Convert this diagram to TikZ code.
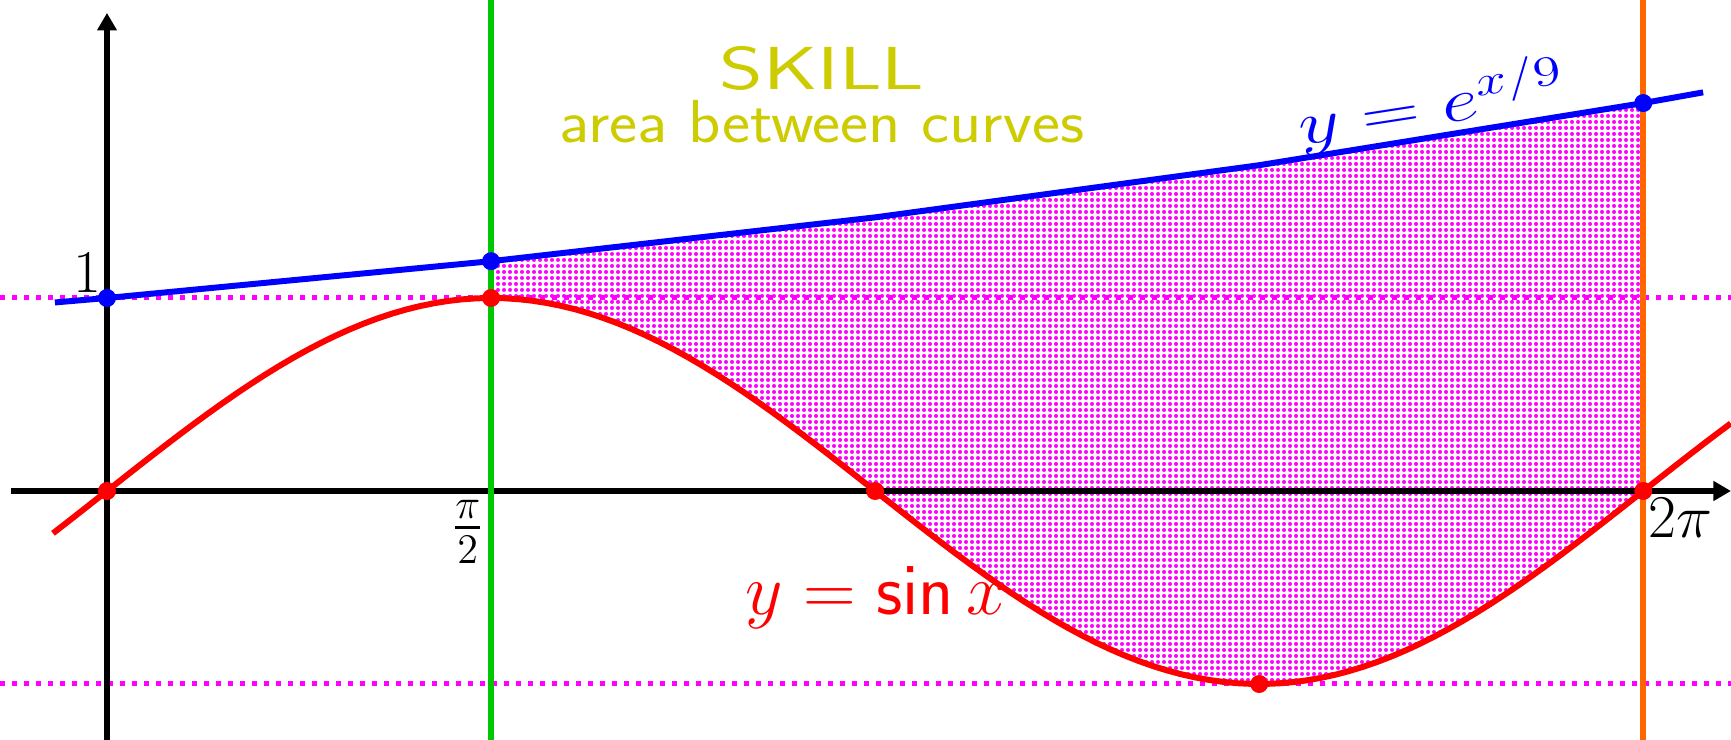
\documentclass[tikz,border=0pt]{standalone}
\usepackage{amsmath,amssymb}
\usepackage{graphicx}
\usepackage{xcolor}
\usepackage{tikz}
\usetikzlibrary{
  arrows.meta,
  patterns.meta
}
\definecolor{skillyellow}{RGB}{204,204,0}
\definecolor{sinred}{RGB}{255,0,0}
\definecolor{expblue}{RGB}{0,0,255}
\definecolor{levelmagenta}{RGB}{255,0,255}
\definecolor{lowgreen}{RGB}{0,200,0}
\definecolor{highorange}{RGB}{255,102,0}
\tikzset{
  axis/.style={line width=1.8pt,draw=black,
    -{Triangle[length=5pt,width=5.4pt]}},
  sincurve/.style={line width=1.7pt,draw=sinred},
  expcurve/.style={line width=1.7pt,draw=expblue},
  level/.style={line width=0.5mm,draw=levelmagenta,
    dash pattern=on 0.5mm off 0.7mm},
  bound/.style={line width=1.7pt},
  between/.style={pattern={Dots[distance=0.6mm,radius=0.2mm]},
    pattern color=levelmagenta},
  sindot/.style={circle,fill=sinred,inner sep=0pt,minimum size=1.8mm},
  expdot/.style={circle,fill=expblue,inner sep=0pt,minimum size=1.8mm},
  tick/.style={font=\LARGE,inner sep=0pt},
  title/.style={font=\sffamily\LARGE,text=skillyellow,anchor=base}
}
\newcommand{\wide}[2]{\scalebox{#1}[1]{#2}}

\begin{document}
\begin{tikzpicture}[x=2.445cm,y=1.93cm]
  \useasboundingbox (-0.4376,-1.290) rectangle (6.642,2.544);
  % region between the curves
  \fill[between] ({pi/2},{exp(pi/18)}) -- ({pi},{exp(pi/9)})
    -- ({3*pi/2},{exp(pi/6)}) -- ({2*pi},{exp(2*pi/9)}) -- ({2*pi},0)
    -- plot[domain={2*pi}:{pi/2},samples=80] (\x,{sin(\x r)}) -- cycle;
  % levels y=1 and y=-1
  \coordinate (l1) at (-0.4376,1);
  \coordinate (r1) at (6.642,1);
  \coordinate (l2) at (-0.4376,-1);
  \coordinate (r2) at (6.642,-1);
  \draw[level] (l1) -- (r1);
  \draw[level] (l2) -- (r2);
  % axes
  \coordinate (xs) at (-0.393,0);
  \coordinate (xe) at (6.642,0);
  \coordinate (ys) at (0,-1.290);
  \coordinate (ye) at (0,2.477);
  \draw[axis] (xs) -- (xe);
  \draw[axis] (ys) -- (ye);
  % bounds of the integral
  \coordinate (ab) at ({pi/2},-1.290);
  \coordinate (at) at ({pi/2},2.544);
  \coordinate (bb) at ({2*pi},-1.290);
  \coordinate (bt) at ({2*pi},2.544);
  \draw[bound,draw=lowgreen] (ab) -- (at);
  \draw[bound,draw=highorange] (bb) -- (bt);
  % curves
  \draw[sincurve] plot[domain=-0.221:6.642,samples=120] (\x,{sin(\x r)});
  \draw[expcurve] (-0.213,{exp(-0.213/9)}) -- (0,1)
    -- ({pi/2},{exp(pi/18)}) -- ({pi},{exp(pi/9)})
    -- ({3*pi/2},{exp(pi/6)}) -- ({2*pi},{exp(2*pi/9)})
    -- (6.528,{exp(6.528/9)});
  % marked points
  \node[sindot] (s0) at (0,0) {};
  \node[sindot] (s1) at ({pi/2},1) {};
  \node[sindot] (s2) at ({pi},0) {};
  \node[sindot] (s3) at ({3*pi/2},-1) {};
  \node[sindot] (s4) at ({2*pi},0) {};
  \node[expdot] (e0) at (0,1) {};
  \node[expdot] (e1) at ({pi/2},{exp(pi/18)}) {};
  \node[expdot] (e2) at ({2*pi},{exp(2*pi/9)}) {};
  % tick labels
  \node[tick,anchor=base east] (one) at (-0.02,1.031) {\(1\)};
  \node[tick,anchor=north east] (half) at ({pi/2-0.024},-0.047) {\(\frac{\pi}{2}\)};
  \node[tick,anchor=north west] (full) at (6.303,-0.036) {\(2\pi\)};
  % labels
  \node[title] (skill) at (2.924,2.078) {\wide{1.38}{SKILL}};
  \node[title] (sub) at (2.924,1.808) {\wide{1.1}{area between curves}};
  \node[anchor=base,font=\LARGE,text=expblue,rotate=8.8] (elab) at (5.431,1.896)
    {\wide{1.33}{\(y=e^{x/9}\)}};
  \node[anchor=base,font=\huge,text=sinred] (slab) at (3.146,-0.642)
    {\(y=\mathsf{sin}\,x\)};
\end{tikzpicture}
\end{document}
